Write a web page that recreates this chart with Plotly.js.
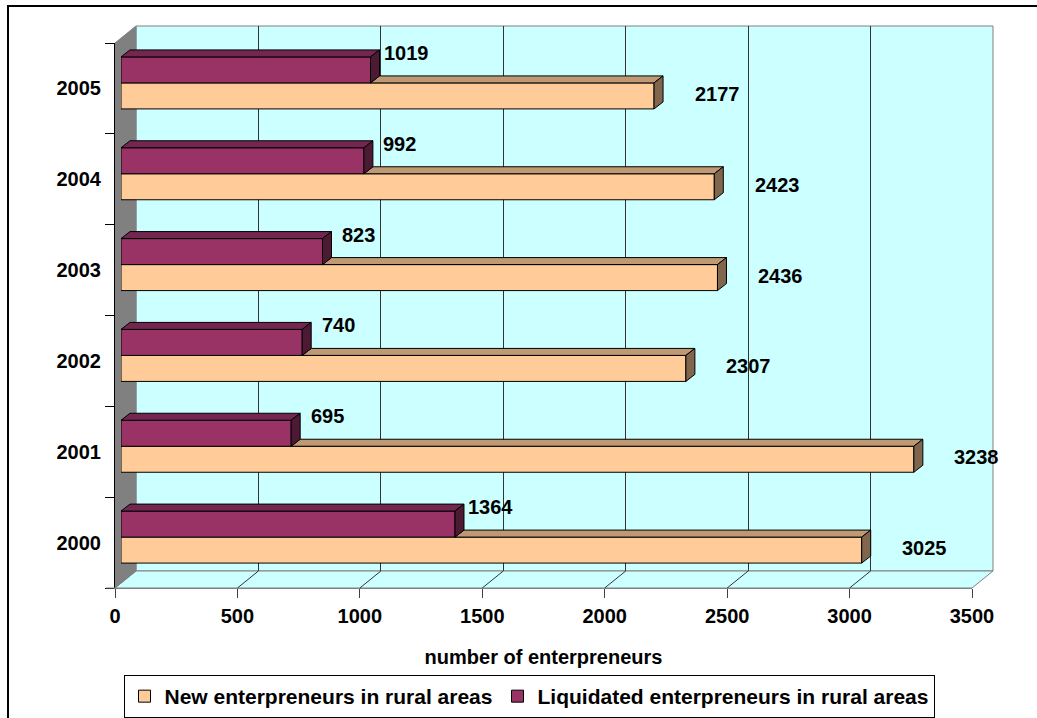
<!DOCTYPE html>
<html><head><meta charset="utf-8">
<script src="https://cdn.plot.ly/plotly-3.0.1.min.js"></script>
<style>body{margin:0;padding:0;background:#fff}#chart{width:1037px;height:718px}</style>
</head><body><div id="chart"></div>
<script>
// ---- data ----
const years = ['2000','2001','2002','2003','2004','2005'];
const newEnt = [3025, 3238, 2307, 2436, 2423, 2177];
const liqEnt = [1364, 695, 740, 823, 992, 1019];
const xTicks = [0, 500, 1000, 1500, 2000, 2500, 3000, 3500];
const gridTicks = [500, 1000, 1500, 2000, 2500, 3000];
const seriesNames = ['New enterpreneurs in rural areas', 'Liquidated enterpreneurs in rural areas'];
const xTitle = 'number of enterpreneurs';

// ---- geometry (pixels) ----
const W = 1037, H = 718, L = 115, R = 43, T = 25, B = 130;
const PW = W - L - R, PH = H - T - B;
const XMAX = 3500;
const FW = 857, FH = 545;               // front plane size
const BACK = {dx: 21, dy: 17};
const BARP = {dx: 6, dy: 5.5};
const FRONT = {dx: 0, dy: 0};
const DEPTH = {dx: 9, dy: 7};
const BAR_T = 26;
const BAND = FH / years.length;
const BARGAP = 1 - 2 * BAR_T / BAND;

const FONT = {family: 'Arial, "Liberation Sans", sans-serif', size: 20, color: '#000', weight: 700};
const LFONT = {family: 'Arial, "Liberation Sans", sans-serif', size: 21, color: '#000', weight: 700};

function fx(px) { return (px - L) / PW; }
function fy(py) { return (H - B - py) / PH; }
function planeX(v, p) { return L + p.dx + v * FW / XMAX; }
function planeBottom(p) { return H - B - p.dy; }
function poly(pts) { return 'M' + pts.map(p => fx(p[0]).toFixed(5) + ',' + fy(p[1]).toFixed(5)).join('L') + 'Z'; }
function shp(pts, fill, line, layer) {
  return {type: 'path', xref: 'paper', yref: 'paper', path: poly(pts), fillcolor: fill,
          line: {color: line, width: 1}, layer: layer};
}

const shapes = [];
// outer border
shapes.push({type: 'rect', xref: 'paper', yref: 'paper', x0: fx(8), x1: fx(1045), y0: fy(6), y1: fy(730),
             line: {color: '#000', width: 2}, fillcolor: 'rgba(0,0,0,0)', layer: 'below'});
// back wall
const bx0 = planeX(0, BACK), bx1 = planeX(XMAX, BACK), bb = planeBottom(BACK), bt = bb - FH;
const fx0 = planeX(0, FRONT), fx1 = planeX(XMAX, FRONT), fb = planeBottom(FRONT), ft = fb - FH;
shapes.push(shp([[bx0, bt], [bx1, bt], [bx1, bb], [bx0, bb]], '#CCFFFF', '#808080', 'below'));
// floor
shapes.push(shp([[fx0, fb], [fx1, fb], [bx1, bb], [bx0, bb]], '#CCFFFF', '#808080', 'below'));
// floor grid lines
gridTicks.forEach(v => {
  shapes.push({type: 'line', xref: 'paper', yref: 'paper', x0: fx(planeX(v, BACK)), y0: fy(bb),
               x1: fx(planeX(v, FRONT)), y1: fy(fb), line: {color: '#333', width: 1}, layer: 'below'});
});
// left wall
shapes.push(shp([[fx0, ft], [bx0, bt], [bx0, bb], [fx0, fb]], '#808080', '#808080', 'below'));
// bottom-left gray tick extension
shapes.push({type: 'line', xref: 'paper', yref: 'paper', x0: fx(fx0 - 9), y0: fy(fb), x1: fx(fx0), y1: fy(fb),
             line: {color: '#808080', width: 1}, layer: 'above'});

// 3D faces of bars
const cols = {newF: '#FFCC99', newTop: '#BF9973', newSide: '#80664D',
              liqF: '#993366', liqTop: '#732650', liqSide: '#4D1A33'};
years.forEach((y, i) => {
  const c = planeBottom(BARP) - (i + 0.5) * BAND;
  const x0 = planeX(0, BARP);
  const oE = planeX(newEnt[i], BARP), pE = planeX(liqEnt[i], BARP);
  const oTop = c, oBot = c + BAR_T, pTop = c - BAR_T, pBot = c;
  const dx = DEPTH.dx, dy = DEPTH.dy;
  const oStart = Math.min(pE, oE);
  shapes.push(shp([[oStart, oTop], [oE, oTop], [oE + dx, oTop - dy], [oStart + dx, oTop - dy]], cols.newTop, '#000', 'above'));
  shapes.push(shp([[oE, oTop], [oE, oBot], [oE + dx, oBot - dy], [oE + dx, oTop - dy]], cols.newSide, '#000', 'above'));
  shapes.push(shp([[x0, pTop], [pE, pTop], [pE + dx, pTop - dy], [x0 + dx, pTop - dy]], cols.liqTop, '#000', 'above'));
  shapes.push(shp([[pE, pTop], [pE, pBot], [pE + dx, pBot - dy], [pE + dx, pTop - dy]], cols.liqSide, '#000', 'above'));
});

// data labels (category index used as y position)
const annotations = [];
years.forEach((y, i) => {
  annotations.push({xref: 'x2', yref: 'y2', x: newEnt[i], y: i, text: String(newEnt[i]), showarrow: false,
                    xanchor: 'center', yanchor: 'middle', xshift: 63, yshift: -11, font: FONT});
  annotations.push({xref: 'x2', yref: 'y2', x: liqEnt[i], y: i, text: String(liqEnt[i]), showarrow: false,
                    xanchor: 'center', yanchor: 'middle', xshift: 36, yshift: 30, font: FONT});
});

const traces = [
  {type: 'scatter', x: [], y: [], xaxis: 'x', yaxis: 'y', showlegend: false, hoverinfo: 'skip'},
  {type: 'bar', orientation: 'h', name: seriesNames[0], x: newEnt, y: years, xaxis: 'x2', yaxis: 'y2',
   marker: {color: cols.newF, line: {color: '#000', width: 1}}},
  {type: 'bar', orientation: 'h', name: seriesNames[1], x: liqEnt, y: years, xaxis: 'x2', yaxis: 'y2',
   marker: {color: cols.liqF, line: {color: '#000', width: 1}}},
  {type: 'scatter', x: [], y: [], xaxis: 'x3', yaxis: 'y3', showlegend: false, hoverinfo: 'skip'}
];

const layout = {
  width: W, height: H,
  margin: {l: L, r: R, t: T, b: B, pad: 0},
  paper_bgcolor: '#fff', plot_bgcolor: 'rgba(0,0,0,0)',
  barmode: 'group', bargap: BARGAP, bargroupgap: 0,
  font: FONT,
  showlegend: true,
  legend: {orientation: 'h', xref: 'container', yref: 'container', x: 529 / W, xanchor: 'center',
           y: (H - 675) / H, yanchor: 'top', bordercolor: '#000', borderwidth: 1, bgcolor: '#fff',
           font: LFONT, traceorder: 'normal', itemwidth: 30},
  xaxis: {domain: [BACK.dx / PW, (BACK.dx + FW) / PW], anchor: 'y', range: [0, XMAX], tickvals: gridTicks,
          showgrid: true, gridcolor: '#333', gridwidth: 1, showticklabels: false, ticks: '', zeroline: false,
          showline: false, fixedrange: true},
  yaxis: {domain: [BACK.dy / PH, (BACK.dy + FH) / PH], anchor: 'x', range: [0, 1], visible: false, fixedrange: true},
  xaxis2: {domain: [BARP.dx / PW, (BARP.dx + FW) / PW], anchor: 'y2', range: [0, XMAX], visible: false, fixedrange: true},
  yaxis2: {domain: [BARP.dy / PH, (BARP.dy + FH) / PH], anchor: 'x2', type: 'category', categoryarray: years,
           categoryorder: 'array', range: [-0.5, years.length - 0.5], visible: false, fixedrange: true},
  xaxis3: {domain: [0, FW / PW], anchor: 'y3', range: [0, XMAX], tickvals: xTicks, ticktext: xTicks.map(String),
           ticks: 'outside', ticklen: 9, tickcolor: '#404040', tickwidth: 1, showline: true, linecolor: '#808080',
           linewidth: 1, showgrid: false, zeroline: false, tickfont: FONT, ticklabelstandoff: 1,
           title: {text: xTitle, font: FONT, standoff: 23}, fixedrange: true},
  yaxis3: {domain: [0, FH / PH], anchor: 'x3', type: 'category', categoryarray: years, categoryorder: 'array',
           range: [-0.5, years.length - 0.5], tickson: 'boundaries', ticks: 'outside', ticklen: 9,
           tickcolor: '#000', showline: true, linecolor: '#000', linewidth: 1, showgrid: false, zeroline: false,
           tickfont: FONT, ticklabelstandoff: 9, fixedrange: true},
  shapes: shapes,
  annotations: annotations
};

Plotly.newPlot('chart', traces, layout, {displayModeBar: false, staticPlot: true});
</script>
</body></html>
